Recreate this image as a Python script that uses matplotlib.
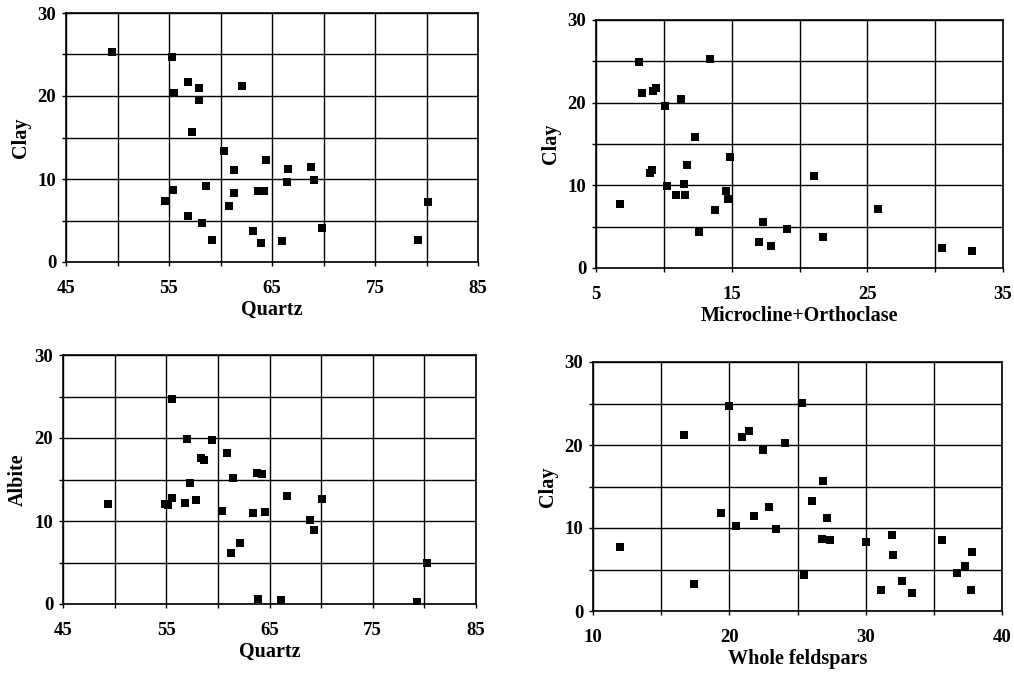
import matplotlib.pyplot as plt
import numpy as np

plt.rcParams['font.family'] = ['Liberation Serif', 'DejaVu Serif']
plt.rcParams['font.weight'] = 'bold'

# Clay vs Quartz
quartz_a = [49.5, 55.3, 56.8, 57.95, 62.1, 55.5, 57.9, 57.2, 60.3, 64.4, 61.3, 66.6, 68.8, 66.5, 69.1, 58.6,
            55.4, 61.35, 63.6, 64.2, 54.6, 80.1, 60.8, 56.8, 58.2, 69.9, 63.2, 59.2, 63.9, 66.0, 79.2]
clay_a = [25.3, 24.7, 21.7, 21.0, 21.2, 20.4, 19.5, 15.7, 13.4, 12.3, 11.1, 11.2, 11.5, 9.6, 9.9, 9.2,
          8.7, 8.3, 8.55, 8.55, 7.3, 7.2, 6.8, 5.5, 4.7, 4.1, 3.7, 2.7, 2.3, 2.5, 2.7]

# Clay vs Microcline+Orthoclase
micro = [8.2, 13.4, 8.4, 9.2, 9.4, 10.1, 11.3, 12.3, 11.7, 14.9, 9.0, 9.1, 21.1, 10.2, 11.5, 10.9, 11.55,
         14.6, 14.75, 6.8, 13.8, 25.8, 12.6, 17.3, 19.1, 17.0, 17.9, 21.7, 30.5, 32.7]
clay_b = [24.9, 25.25, 21.2, 21.4, 21.8, 19.6, 20.5, 15.8, 12.5, 13.4, 11.5, 11.9, 11.1, 9.9, 10.15, 8.8, 8.8,
          9.3, 8.4, 7.7, 7.0, 7.1, 4.4, 5.6, 4.7, 3.1, 2.7, 3.7, 2.4, 2.1]

# Albite vs Quartz
quartz_c = [55.6, 57.0, 59.4, 58.4, 58.7, 60.9, 63.8, 64.3, 61.5, 57.3, 49.4, 55.6, 54.9, 55.2, 56.8, 57.9,
            66.7, 70.1, 60.4, 63.4, 64.6, 68.9, 69.3, 62.1, 61.3, 80.3, 63.9, 66.1, 79.3]
albite = [24.7, 19.9, 19.8, 17.6, 17.4, 18.2, 15.8, 15.7, 15.2, 14.6, 12.1, 12.8, 12.0, 11.9, 12.15, 12.5,
          13.0, 12.7, 11.15, 10.95, 11.1, 10.1, 8.95, 7.3, 6.2, 5.0, 0.6, 0.5, 0.2]

# Clay vs Whole feldspars
feld = [12.0, 16.7, 17.4, 20.0, 20.9, 21.45, 22.5, 24.05, 25.3, 19.4, 20.5, 21.8, 22.9, 23.4, 25.5, 26.85,
        26.1, 27.2, 26.8, 27.35, 30.0, 31.9, 32.0, 31.1, 32.7, 33.4, 35.6, 36.7, 37.3, 37.8, 37.7]
clay_d = [7.75, 21.25, 3.2, 24.7, 21.0, 21.7, 19.4, 20.3, 25.1, 11.8, 10.3, 11.4, 12.5, 9.9, 4.3, 15.7,
          13.3, 11.2, 8.7, 8.6, 8.3, 9.2, 6.8, 2.5, 3.6, 2.2, 8.6, 4.6, 5.4, 7.1, 2.5]

W, H = 1014, 676
fig = plt.figure(figsize=(W / 100, H / 100), dpi=100)


def panel(rect, x, y, xlim, ylabel, xlabel):
    l, t, r, b = rect
    ax = fig.add_axes([l / W, 1 - b / H, (r - l) / W, (b - t) / H])
    ax.scatter(x, y, marker='s', s=32, color='black', zorder=3, linewidths=0)
    ax.set_xlim(*xlim)
    ax.set_ylim(0, 30)
    ax.set_xticks(np.arange(xlim[0], xlim[1] + 1, 10))
    ax.set_xticks(np.arange(xlim[0], xlim[1] + 1, 5), minor=True)
    ax.set_yticks([0, 10, 20, 30])
    ax.set_yticks(np.arange(0, 31, 5), minor=True)
    ax.grid(True, which='both', color='black', linewidth=1.0)
    ax.set_axisbelow(True)
    for s in ax.spines.values():
        s.set_linewidth(1.2)
    ax.tick_params(which='both', direction='out', length=3, width=1.0)
    ax.tick_params(axis='x', which='major', pad=10, labelsize=13.5)
    ax.tick_params(axis='y', which='major', pad=4, labelsize=13.5)
    ax.set_xlabel(xlabel, fontsize=14.5, fontweight='bold', labelpad=2)
    ax.set_ylabel(ylabel, fontsize=14.5, fontweight='bold', labelpad=5)
    return ax


panel((66, 13, 478, 262), quartz_a, clay_a, (45, 85), 'Clay', 'Quartz')
panel((596, 20, 1003, 268), micro, clay_b, (5, 35), 'Clay', 'Microcline+Orthoclase')
panel((63, 355, 476, 604), quartz_c, albite, (45, 85), 'Albite', 'Quartz')
panel((593, 362, 1002, 611), feld, clay_d, (10, 40), 'Clay', 'Whole feldspars')

fig.savefig('out.png', dpi=100, facecolor='white')
